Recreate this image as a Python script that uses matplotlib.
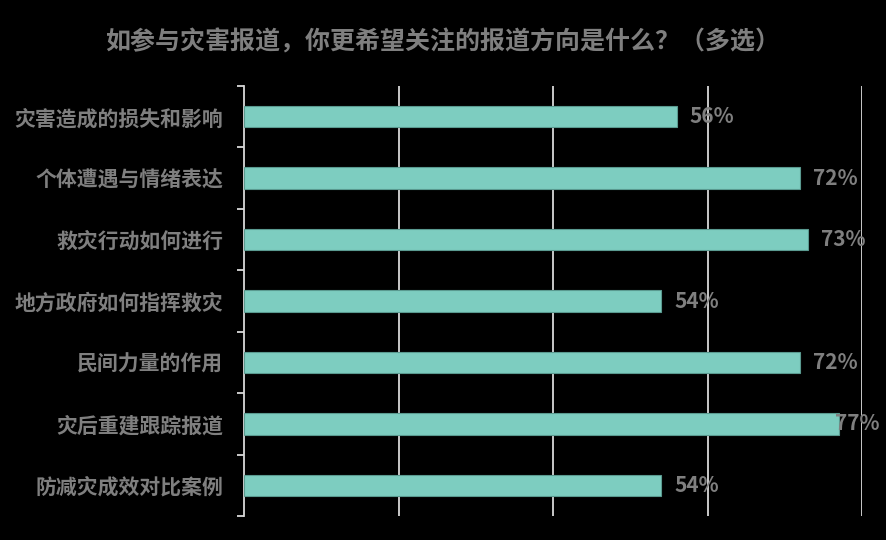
import matplotlib
matplotlib.use('Agg')
import matplotlib.pyplot as plt
import numpy as np

plt.rcParams['font.family'] = ['Noto Sans CJK SC', 'DejaVu Sans']

TITLE = '如参与灾害报道，你更希望关注的报道方向是什么？（多选）'
categories = ['灾害造成的损失和影响', '个体遭遇与情绪表达', '救灾行动如何进行',
              '地方政府如何指挥救灾', '民间力量的作用', '灾后重建跟踪报道',
              '防减灾成效对比案例']
values = [0.56, 0.72, 0.73, 0.54, 0.72, 0.77, 0.54]
xticks = [0.2, 0.4, 0.6, 0.8]

BG = '#000000'
BAR = '#7dcdc0'
EDGE = '#5a9a90'
TXT = '#7f7f7f'
GRID = '#d9d9d9'

fig = plt.figure(figsize=(8.86, 5.40), dpi=100, facecolor=BG)
ax = fig.add_axes([0.2754, 0.0444, 0.6976, 0.7963], facecolor=BG)

y = np.arange(len(categories))
ax.barh(y, values, height=0.35, color=BAR, edgecolor=EDGE, linewidth=0.8, zorder=3)

ax.set_xlim(0, 0.8)
ax.set_ylim(len(categories) - 0.5, -0.5)

for xv in xticks:
    ax.axvline(xv, color=GRID, linewidth=1.3, zorder=1)

ax.set_xticks([])
ax.set_yticks(y)
ax.set_yticklabels(categories, fontsize=15, fontweight='bold', color=TXT)
ax.tick_params(axis='y', which='major', length=0, pad=15)
ax.set_yticks(np.arange(len(categories) + 1) - 0.5, minor=True)
ax.tick_params(axis='y', which='minor', length=5, width=1.3, color=GRID, direction='out')

for s in ['top', 'right', 'bottom']:
    ax.spines[s].set_visible(False)
ax.spines['left'].set_color(GRID)
ax.spines['left'].set_linewidth(1.3)

for yi, v in zip(y, values):
    xpos = v + 0.017
    if xpos + 0.058 > 0.82:
        xpos = 0.765
    ax.text(xpos, yi, f'{int(round(v * 100))}%', va='center', ha='left',
            fontsize=15, fontweight='bold', color=TXT, zorder=4, clip_on=False)

fig.text(0.5, 0.922, TITLE, ha='center', va='center', fontsize=18,
         fontweight='bold', color=TXT)

fig.savefig('out.png', dpi=100, facecolor=BG)
